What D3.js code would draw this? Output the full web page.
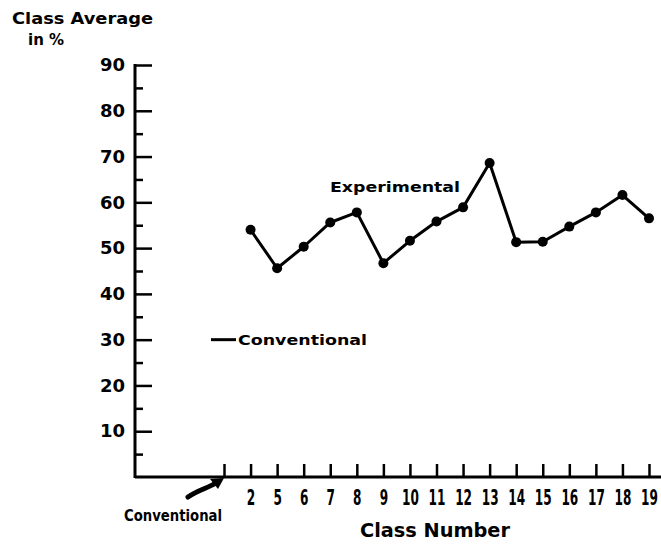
<!DOCTYPE html>
<html>
<head>
<meta charset="utf-8">
<script src="https://cdn.jsdelivr.net/npm/d3@7"></script>
<style>
  body { margin: 0; background: #fff; }
  svg text { font-family: "DejaVu Sans", sans-serif; font-weight: bold; fill: #000; }
  .tick line, .domain { stroke: #000; }
</style>
</head>
<body>
<svg id="chart" width="661" height="546"></svg>
<script>
// class numbers along the bottom, first slot is the conventional class
var classes = ["Conv", "2", "5", "6", "7", "8", "9", "10", "11", "12", "13", "14", "15", "16", "17", "18", "19"];
// experimental class averages
var expClasses = ["2", "5", "6", "7", "8", "9", "10", "11", "12", "13", "14", "15", "16", "17", "18", "19"];
var expValues = [54, 45.6, 50.3, 55.6, 57.8, 46.7, 51.6, 55.8, 58.9, 68.6, 51.3, 51.4, 54.7, 57.8, 61.6, 56.5];
// conventional class average
var convValue = 30;
var yTicks = [10, 20, 30, 40, 50, 60, 70, 80, 90];
var yMinor = [5, 15, 25, 35, 45, 55, 65, 75, 85];

var svg = d3.select("#chart");

var x = d3.scalePoint()
  .domain(classes)
  .range([224, 649]);

var y = d3.scaleLinear()
  .domain([0, 90])
  .range([477, 65]);

var axisX0 = 135;

// y axis, ticks point into the plot
var yAxis = d3.axisLeft(y)
  .tickValues(yTicks)
  .tickSize(-17)
  .tickPadding(10)
  .tickSizeOuter(0);

var gy = svg.append("g")
  .attr("transform", "translate(" + axisX0 + ",0)")
  .call(yAxis);
gy.select(".domain").remove();
gy.selectAll(".tick line").attr("stroke-width", 2.5);
gy.selectAll(".tick text")
  .attr("font-size", 18);

var gyMinor = svg.append("g")
  .attr("transform", "translate(" + axisX0 + ",0)")
  .call(d3.axisLeft(y).tickValues(yMinor).tickSize(-8).tickFormat(""));
gyMinor.select(".domain").remove();
gyMinor.selectAll(".tick line").attr("stroke-width", 2.5);

svg.append("line")
  .attr("x1", axisX0).attr("x2", axisX0)
  .attr("y1", y(90) - 1).attr("y2", y(0) + 1)
  .attr("stroke", "#000").attr("stroke-width", 3);

// x axis, ticks point upward
var xAxis = d3.axisBottom(x)
  .tickSize(-13)
  .tickPadding(12)
  .tickFormat(function(d) { return d === "Conv" ? "" : d; });

var gx = svg.append("g")
  .attr("transform", "translate(0," + y(0) + ")")
  .call(xAxis);
gx.select(".domain").remove();
gx.selectAll(".tick line").attr("stroke-width", 2.5);
// narrow, tall digits like the original lettering
gx.selectAll(".tick text")
  .attr("font-size", 22)
  .attr("transform", "scale(0.55,1)");

svg.append("line")
  .attr("x1", axisX0).attr("x2", 661)
  .attr("y1", y(0)).attr("y2", y(0))
  .attr("stroke", "#000").attr("stroke-width", 3);

// experimental line
var line = d3.line()
  .x(function(d, i) { return x(expClasses[i]); })
  .y(function(d) { return y(d); });

svg.append("path")
  .datum(expValues)
  .attr("d", line)
  .attr("fill", "none")
  .attr("stroke", "#000")
  .attr("stroke-width", 3)
  .attr("stroke-linejoin", "round");

svg.selectAll("circle.exp")
  .data(expValues)
  .enter().append("circle")
  .attr("class", "exp")
  .attr("cx", function(d, i) { return x(expClasses[i]); })
  .attr("cy", function(d) { return y(d); })
  .attr("r", 5)
  .attr("fill", "#000");

svg.append("text")
  .attr("x", 330).attr("y", 192)
  .attr("font-size", 14.5)
  .attr("textLength", 130)
  .attr("lengthAdjust", "spacingAndGlyphs")
  .text("Experimental");

// conventional mark
svg.append("line")
  .attr("x1", x("Conv") - 13).attr("x2", x("Conv") + 12)
  .attr("y1", y(convValue)).attr("y2", y(convValue))
  .attr("stroke", "#000").attr("stroke-width", 3);

svg.append("text")
  .attr("x", 238).attr("y", y(convValue) + 5.5)
  .attr("font-size", 14.5)
  .attr("textLength", 129)
  .attr("lengthAdjust", "spacingAndGlyphs")
  .text("Conventional");

// arrow pointing at the conventional tick
svg.append("path")
  .attr("d", "M188,497 C198,490 208,488 216,483")
  .attr("fill", "none")
  .attr("stroke", "#000")
  .attr("stroke-width", 5)
  .attr("stroke-linecap", "round");
svg.append("path")
  .attr("d", "M224,478 L210,479 L218,489 Z")
  .attr("fill", "#000");

svg.append("text")
  .attr("x", 124).attr("y", 521)
  .attr("font-size", 15)
  .attr("font-weight", 900)
  .attr("textLength", 98)
  .attr("lengthAdjust", "spacingAndGlyphs")
  .text("Conventional");

svg.append("text")
  .attr("x", 435).attr("y", 537)
  .attr("text-anchor", "middle")
  .attr("font-size", 20)
  .attr("textLength", 150)
  .attr("lengthAdjust", "spacingAndGlyphs")
  .text("Class Number");

// y axis title
svg.append("text")
  .attr("x", 12).attr("y", 24)
  .attr("font-size", 15)
  .attr("textLength", 141)
  .attr("lengthAdjust", "spacingAndGlyphs")
  .text("Class Average");
svg.append("text")
  .attr("x", 28).attr("y", 45)
  .attr("font-size", 15)
  .text("in %");
</script>
</body>
</html>
